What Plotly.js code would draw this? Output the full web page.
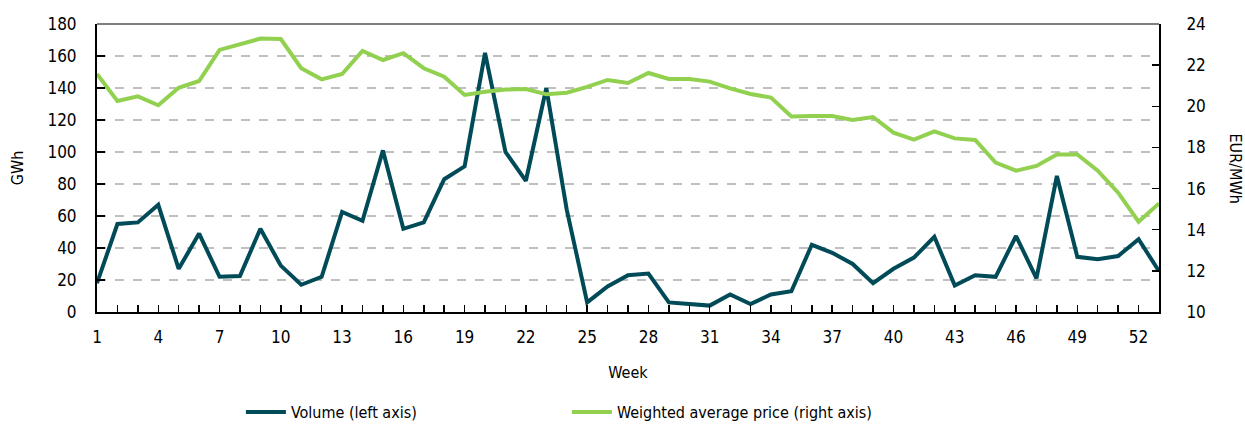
<!DOCTYPE html>
<html>
<head>
<meta charset="utf-8">
<script src="https://cdn.plot.ly/plotly-3.0.1.min.js"></script>
<style>
  html, body { margin: 0; padding: 0; background: #fff; }
  #chart { width: 1245px; height: 424px; }
  #chart svg text { font-stretch: condensed !important; }
</style>
</head>
<body>
<div id="chart"></div>
<script>
const weeks = Array.from({length: 53}, (_, i) => i + 1);

const volume = [18, 55, 56, 67, 27, 49, 22, 22.5, 52, 29,
                17, 22, 62.5, 57, 101, 52, 56, 83, 91, 162,
                100, 82, 140, 64, 6, 16, 23, 24, 6, 5,
                4, 11, 5, 11, 13, 42, 37, 30, 18, 27,
                34, 47, 16.5, 23, 22, 47.5, 21, 85, 34.5, 33,
                35, 45.5, 25.5];

const price = [21.57, 20.26, 20.48, 20.05, 20.9, 21.23, 22.74, 23.03, 23.29, 23.27,
               21.85, 21.31, 21.57, 22.69, 22.25, 22.58, 21.85, 21.44, 20.55, 20.71,
               20.81, 20.84, 20.58, 20.66, 20.94, 21.28, 21.13, 21.62, 21.33, 21.33,
               21.2, 20.87, 20.6, 20.42, 19.5, 19.53, 19.53, 19.33, 19.48, 18.72,
               18.38, 18.78, 18.44, 18.36, 17.26, 16.87, 17.1, 17.66, 17.66, 16.87,
               15.8, 14.39, 15.28];

const xTickLabels = weeks.map(w => ((w - 1) % 3 === 0 ? String(w) : ''));
const leftTicks = [0, 20, 40, 60, 80, 100, 120, 140, 160, 180];
const rightTicks = [10, 12, 14, 16, 18, 20, 22, 24];

const FONT = '"DejaVu Sans Condensed", "DejaVu Sans", sans-serif';
const DARK = '#004B57';
const GREEN = '#92D050';

const traces = [
  {
    x: weeks, y: volume, name: 'Volume (left axis)', type: 'scatter', mode: 'lines',
    line: {color: DARK, width: 4}, yaxis: 'y'
  },
  {
    x: weeks, y: price, name: 'Weighted average price (right axis)', type: 'scatter', mode: 'lines',
    line: {color: GREEN, width: 4}, yaxis: 'y2'
  }
];

const layout = {
  width: 1245, height: 424,
  margin: {l: 97, r: 86, t: 24, b: 112},
  paper_bgcolor: '#fff', plot_bgcolor: '#fff',
  font: {family: FONT, size: 17, color: '#000'},
  showlegend: true,
  legend: {
    orientation: 'h', x: 0.1355, xanchor: 'left',
    yref: 'container', y: 0.028, yanchor: 'middle',
    entrywidth: 271, entrywidthmode: 'pixels',
    font: {family: FONT, size: 16, color: '#000'},
    itemwidth: 40
  },
  xaxis: {
    range: [1, 53], tickmode: 'array', tickvals: weeks, ticktext: xTickLabels,
    ticks: 'inside', ticklen: 7, tickwidth: 1.5, tickcolor: '#000',
    showline: true, linecolor: '#000', linewidth: 2, showgrid: false, zeroline: false,
    automargin: false, ticklabelstandoff: 9,
    tickfont: {family: FONT, size: 17, color: '#000'},
    title: {text: 'Week', font: {family: FONT, size: 16, color: '#000'}, standoff: 20}
  },
  yaxis: {
    range: [0, 180], tickmode: 'array', tickvals: leftTicks,
    ticks: 'inside', ticklen: 8, tickwidth: 1.5, tickcolor: '#000',
    showline: true, linecolor: '#000', linewidth: 2, zeroline: false,
    showgrid: true, gridcolor: '#BFBFBF', gridwidth: 1.5, griddash: 'dash',
    automargin: false, ticklabelstandoff: 15,
    tickfont: {family: FONT, size: 17, color: '#000'},
    title: {text: 'GWh', font: {family: FONT, size: 16, color: '#000'}, standoff: 20}
  },
  yaxis2: {
    range: [10, 24], tickmode: 'array', tickvals: rightTicks,
    overlaying: 'y', side: 'right',
    ticks: 'inside', ticklen: 7, tickwidth: 1.5, tickcolor: '#000',
    showline: true, linecolor: '#000', linewidth: 2, zeroline: false, showgrid: false,
    automargin: false, ticklabelstandoff: 22,
    tickfont: {family: FONT, size: 17, color: '#000'}
  },
  shapes: [
    {type: 'line', xref: 'paper', yref: 'paper', x0: 0, x1: 1, y0: 1, y1: 1,
     line: {color: '#7F7F7F', width: 2}}
  ],
  annotations: [
    {text: 'EUR/MWh', xref: 'paper', yref: 'paper', x: 1.0, y: 0.5,
     xshift: 88, textangle: 90, showarrow: false,
     font: {family: FONT, size: 16, color: '#000'}}
  ]
};

Plotly.newPlot('chart', traces, layout, {displayModeBar: false, staticPlot: true});
</script>
</body>
</html>
